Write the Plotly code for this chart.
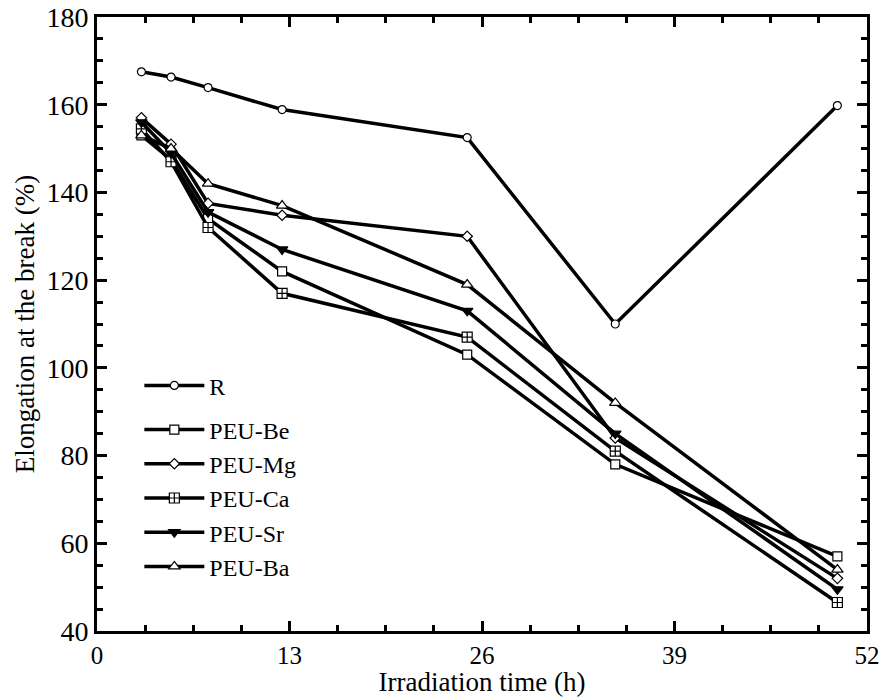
import plotly.graph_objects as go

time_h = [3, 5, 7.5, 12.5, 25, 35, 50]
R = [167.5, 166.3, 163.9, 158.9, 152.5, 110.0, 159.8]
PEU_Be = [153.0, 147.5, 134.0, 122.0, 103.0, 78.0, 57.0]
PEU_Mg = [157.0, 151.0, 137.5, 134.8, 130.0, 84.0, 52.0]
PEU_Ca = [154.5, 147.0, 132.0, 117.0, 107.0, 81.0, 46.5]
PEU_Sr = [156.0, 149.0, 135.5, 127.0, 113.0, 85.0, 49.5]
PEU_Ba = [153.0, 150.0, 142.0, 137.0, 119.0, 92.0, 54.0]

series = [
    ("R", R, "circle", 8, "white", "ref"),
    ("PEU-Be", PEU_Be, "square", 9, "white", "peu"),
    ("PEU-Mg", PEU_Mg, "diamond", 8, "white", "peu"),
    ("PEU-Ca", PEU_Ca, "square-cross", 10, "white", "peu"),
    ("PEU-Sr", PEU_Sr, "triangle-down", 10, "black", "peu"),
    ("PEU-Ba", PEU_Ba, "triangle-up", 10, "white", "peu"),
]

fig = go.Figure()
for name, vals, sym, size, fill, grp in series:
    fig.add_trace(go.Scatter(
        x=time_h, y=vals, name=name, mode="lines+markers", legendgroup=grp,
        line=dict(color="black", width=3.5),
        marker=dict(symbol=sym, size=size, color=fill,
                    line=dict(color="black", width=1.2)),
    ))

font_family = "Liberation Serif, Times New Roman, serif"
axis_common = dict(
    showgrid=False, zeroline=False, showline=True, linecolor="black",
    linewidth=3, mirror="ticks", ticks="inside", tickwidth=3,
    ticklen=10, tickcolor="black", automargin=False,
    ticklabeloverflow="allow",
)

fig.update_xaxes(
    range=[0, 52], tickvals=[0, 13, 26, 39, 52],
    tickfont=dict(family=font_family, size=25, color="black"),
    minor=dict(ticks="inside", dtick=3.25, tick0=0, ticklen=6,
               tickwidth=3, tickcolor="black"),
    title=dict(text="Irradiation time (h)", standoff=5,
               font=dict(family=font_family, size=27, color="black")),
    **axis_common,
)
fig.update_yaxes(
    range=[40, 180], tickvals=list(range(40, 181, 20)),
    tickfont=dict(family=font_family, size=28, color="black"),
    minor=dict(ticks="inside", dtick=5, tick0=40, ticklen=6,
               tickwidth=3, tickcolor="black"),
    title=dict(text="Elongation at the break (%)", standoff=4,
               font=dict(family=font_family, size=27, color="black")),
    **axis_common,
)

fig.update_layout(
    width=879, height=697,
    margin=dict(l=97, r=12, t=17, b=66),
    plot_bgcolor="white", paper_bgcolor="white",
    font=dict(family=font_family, color="black"),
    showlegend=True,
    legend=dict(x=0.055, y=0.436, xanchor="left", yanchor="top",
                bgcolor="rgba(0,0,0,0)", borderwidth=0,
                traceorder="grouped",
                font=dict(family=font_family, size=24, color="black"),
                tracegroupgap=10, itemwidth=60),
)

fig.write_html("out.html")
